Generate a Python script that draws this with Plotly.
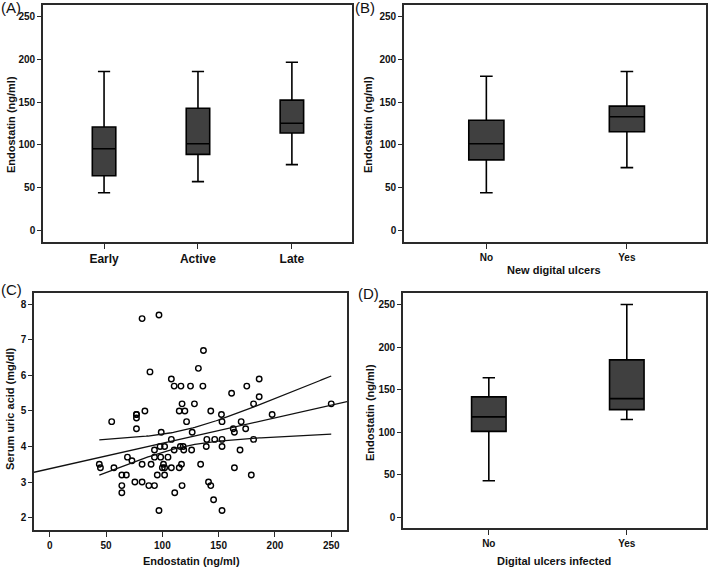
import numpy as np
import plotly.graph_objects as go

# ---------------- data ----------------
# Panel A: disease stage
stage_cats = ["Early", "Active", "Late"]
stage_low = [44, 57, 77]
stage_q1 = [64, 89, 114]
stage_med = [95.5, 101.5, 125.5]
stage_q3 = [121, 143, 152.5]
stage_high = [186, 186, 197]

# Panel B: new digital ulcers
ndu_cats = ["No", "Yes"]
ndu_low = [44, 73.5]
ndu_q1 = [82.5, 115.5]
ndu_med = [101.5, 133]
ndu_q3 = [129, 145.5]
ndu_high = [180.5, 186]

# Panel D: digital ulcers infected
dui_cats = ["No", "Yes"]
dui_low = [43, 115]
dui_q1 = [101, 126.5]
dui_med = [118, 139.5]
dui_q3 = [141.5, 185]
dui_high = [164, 250]

# Panel C: scatter endostatin vs serum uric acid
endostatin = [44, 45, 55, 57, 64, 64, 64, 68, 69, 73, 75.6, 77, 77, 77, 77,
              82, 82, 82, 84.5, 88, 89, 90, 93, 93, 93, 95.5, 97, 97, 99, 98.5,
              98, 100, 101, 102, 102, 102, 105, 108, 108, 108, 110.5, 110.5, 111,
              115, 115, 116.5, 116, 117, 117.5, 117.5, 118.5, 119, 120, 121.5,
              125, 126, 126.5, 128.5, 132, 134, 136, 136.5, 139, 139.5, 141, 143,
              143, 145.5, 146.5, 152.5, 153, 153, 153, 153, 161.5, 163, 164, 164,
              169, 170, 174, 175, 179, 181, 181, 186, 186, 197.5, 250]
uric_acid = [3.5, 3.4, 4.7, 3.4, 3.2, 2.9, 2.7, 3.2, 3.7, 3.6, 3.0, 4.5, 4.9, 4.9, 4.8,
             7.6, 3.5, 3.0, 5.0, 2.9, 6.1, 3.5, 3.9, 3.7, 2.9, 3.2, 7.7, 2.2, 4.4, 3.7,
             4.0, 3.4, 3.5, 4.0, 3.4, 3.2, 3.7, 5.9, 4.2, 3.4, 5.7, 3.9, 2.7,
             5.0, 3.4, 5.7, 4.0, 3.5, 5.2, 2.9, 4.0, 3.9, 5.0, 4.7,
             5.7, 3.9, 4.4, 5.2, 6.2, 3.5, 5.7, 6.7, 4.0, 4.2, 3.0, 5.0,
             2.9, 2.5, 4.2, 4.9, 4.7, 4.2, 4.0, 2.2, 5.5, 4.5, 4.4, 3.4,
             3.9, 4.7, 4.5, 5.7, 3.2, 5.2, 4.2, 5.9, 5.4, 4.9, 5.2]

# ---------------- figure ----------------
W, H = 709, 568
def xd(a, b):
    return [a / W, b / W]
def yd(top, bottom):
    return [1 - bottom / H, 1 - top / H]

BOX_FILL = "#404040"
LINE = "#2a2a2a"
TXT = "#111111"
FONT = "Arial"

fig = go.Figure()

def add_box(cats, low, q1, med, q3, high, xa, ya, whisk):
    fig.add_trace(go.Box(
        x=cats, lowerfence=low, q1=q1, median=med, q3=q3, upperfence=high,
        xaxis=xa, yaxis=ya, width=0.25, whiskerwidth=whisk,
        fillcolor=BOX_FILL, line=dict(color="#000000", width=1.6),
        boxpoints=False, showlegend=False, hoverinfo="skip"))

add_box(stage_cats, stage_low, stage_q1, stage_med, stage_q3, stage_high, "x", "y", 0.52)
add_box(ndu_cats, ndu_low, ndu_q1, ndu_med, ndu_q3, ndu_high, "x2", "y2", 0.36)
add_box(dui_cats, dui_low, dui_q1, dui_med, dui_q3, dui_high, "x4", "y4", 0.36)

# scatter
fig.add_trace(go.Scatter(
    x=endostatin, y=uric_acid, mode="markers", xaxis="x3", yaxis="y3",
    marker=dict(symbol="circle-open", size=5.5, color="#000000", line=dict(width=1.4)),
    showlegend=False, hoverinfo="skip"))

# linear fit and 95% confidence band of the mean, from the scatter data
xa_ = np.array(endostatin, dtype=float)
ya_ = np.array(uric_acid, dtype=float)
n = len(xa_)
slope, intercept = np.polyfit(xa_, ya_, 1)
resid = ya_ - (intercept + slope * xa_)
s = np.sqrt(np.sum(resid ** 2) / (n - 2))
xbar = xa_.mean()
sxx = np.sum((xa_ - xbar) ** 2)
t_crit = 1.989

xl = np.linspace(-14, 264, 100)
fig.add_trace(go.Scatter(x=xl, y=intercept + slope * xl, mode="lines", xaxis="x3", yaxis="y3",
                         line=dict(color="#111111", width=1.3), showlegend=False, hoverinfo="skip"))
xc = np.linspace(xa_.min(), xa_.max(), 120)
half = t_crit * s * np.sqrt(1 / n + (xc - xbar) ** 2 / sxx)
for sign in (1, -1):
    fig.add_trace(go.Scatter(x=xc, y=intercept + slope * xc + sign * half, mode="lines",
                             xaxis="x3", yaxis="y3", line=dict(color="#111111", width=1.3),
                             showlegend=False, hoverinfo="skip"))

frame = dict(showline=True, mirror=True, linecolor=LINE, linewidth=1.6, ticks="outside",
             tickwidth=1.4, tickcolor=LINE, showgrid=False, zeroline=False,
             fixedrange=True)
tick_small = dict(family=FONT, size=10, color=TXT, weight="bold")

fig.update_layout(
    width=W, height=H, margin=dict(l=0, r=0, t=0, b=0),
    paper_bgcolor="white", plot_bgcolor="white",
    xaxis=dict(domain=xd(43, 352), anchor="y", range=[-0.65, 2.64], type="category",
               tickfont=dict(family=FONT, size=12, color=TXT, weight="bold"), ticklen=5, **frame),
    yaxis=dict(domain=yd(5, 242), anchor="x", range=[-13.7, 264], tickvals=[0, 50, 100, 150, 200, 250],
               tickfont=tick_small, ticklen=4, **frame),
    xaxis2=dict(domain=xd(404, 706), anchor="y2", range=[-0.586, 1.563], type="category",
                tickfont=tick_small, ticklen=5, **frame),
    yaxis2=dict(domain=yd(5, 242), anchor="x2", range=[-13.7, 264], tickvals=[0, 50, 100, 150, 200, 250],
                tickfont=tick_small, ticklen=4, **frame),
    xaxis3=dict(domain=xd(34, 347), anchor="y3", range=[-14, 264], tickvals=[0, 50, 100, 150, 200, 250],
                tickfont=tick_small, ticklen=5, **frame),
    yaxis3=dict(domain=yd(293, 530), anchor="x3", range=[1.65, 8.32], tickvals=[2, 3, 4, 5, 6, 7, 8],
                tickfont=tick_small, ticklen=4, **frame),
    xaxis4=dict(domain=xd(403, 706), anchor="y4", range=[-0.622, 1.574], type="category",
                tickfont=tick_small, ticklen=5, **frame),
    yaxis4=dict(domain=yd(293, 528), anchor="x4", range=[-12.5, 263.5], tickvals=[0, 50, 100, 150, 200, 250],
                tickfont=tick_small, ticklen=4, **frame),
)

def ann(text, x, y, angle=0, size=11, bold=True):
    fig.add_annotation(text=text, x=x / W, y=1 - y / H, xref="paper", yref="paper",
                       showarrow=False, textangle=angle, xanchor="center", yanchor="middle",
                       font=dict(family=FONT, size=size, color=TXT, weight="bold" if bold else "normal"))

# axis titles
ann("Endostatin (ng/ml)", 11, 125, -90)
ann("Endostatin (ng/ml)", 368, 125, -90)
ann("New digital ulcers", 554, 270)
ann("Serum uric acid (mg/dl)", 10, 409, -90)
ann("Endostatin (ng/ml)", 191, 561)
ann("Endostatin (ng/ml)", 370, 413, -90)
ann("Digital ulcers infected", 554, 561)

# panel labels
ann("(A)", 11, 7, size=15, bold=False)
ann("(B)", 365, 7, size=15, bold=False)
ann("(C)", 11, 289, size=15, bold=False)
ann("(D)", 368, 293, size=15, bold=False)

fig.write_html("out.html", config={"displayModeBar": False},
               post_script="document.body.style.margin='0';document.body.style.overflow='hidden';")
